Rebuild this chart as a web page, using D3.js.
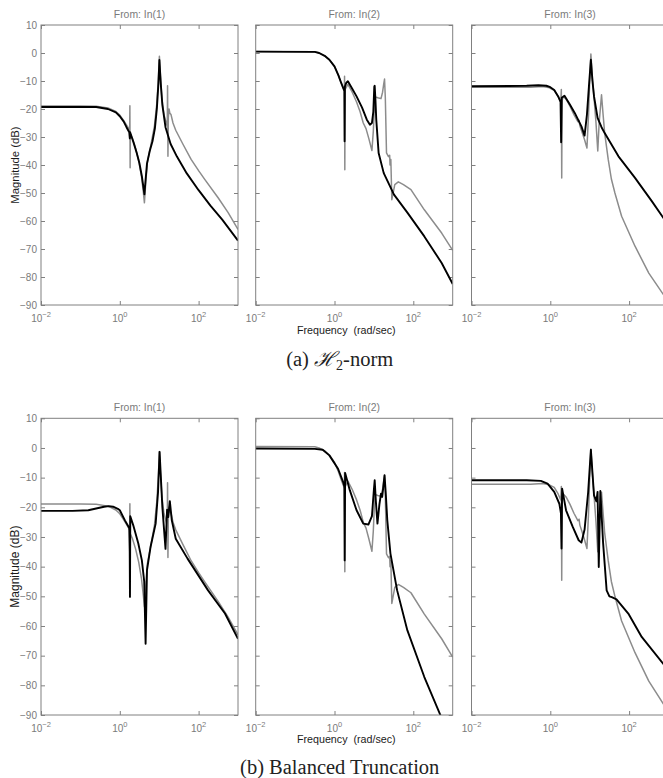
<!DOCTYPE html>
<html><head><meta charset="utf-8">
<script src="https://cdn.jsdelivr.net/npm/d3@7"></script>
<style>body{margin:0;background:#fff}svg{display:block}</style>
</head><body>
<script>
// ---------------- data (frequency as log10(rad/sec), magnitude in dB) ----------------
const inputs = ["In(1)", "In(2)", "In(3)"];
const xTickExponents = [-2, 0, 2];
const yTickValues = [10, 0, -10, -20, -30, -40, -50, -60, -70, -80, -90];
const captionA = ["(a) ", "\u210B", "2", "-norm"];
const captionB = "(b) Balanced Truncation";

// full-order model (grey), identical in both figures
const fullIn1 = [[-2,-18.9],[-1,-18.9],[-0.6,-19.0],[-0.3,-19.6],[-0.1,-20.9],[0,-22.2],[0.1,-24.2],[0.2,-26.4],[0.25,-27.6],[0.256,-18.8],[0.262,-41],[0.268,-29],[0.32,-30.5],[0.4,-34],[0.48,-38.5],[0.55,-44],[0.6,-50],[0.625,-53.5],[0.66,-46],[0.7,-39],[0.8,-32],[0.88,-26],[0.94,-18],[0.98,-9],[1.005,-1.2],[1.03,-8],[1.07,-16.5],[1.12,-22],[1.19,-25.5],[1.205,-26],[1.212,-11.7],[1.222,-36.9],[1.232,-23],[1.25,-20],[1.27,-21.5],[1.3,-22],[1.35,-25],[1.42,-27.6],[1.6,-32.5],[1.81,-38],[2.0,-42],[2.16,-45.2],[2.5,-51.8],[2.75,-57],[3,-63]];
const fullIn2 = [[-2,0.5],[-0.5,0.4],[-0.39,0],[-0.25,-1],[-0.13,-2.4],[0,-4.8],[0.1,-8],[0.17,-10.7],[0.22,-12.5],[0.25,-13.5],[0.255,-8.3],[0.262,-41.7],[0.27,-13],[0.34,-11.2],[0.45,-14],[0.56,-17.5],[0.65,-21],[0.73,-25],[0.8,-27],[0.87,-30.5],[0.95,-34.8],[0.985,-28],[1.01,-20],[1.03,-15.7],[1.1,-16],[1.18,-16.3],[1.22,-14],[1.25,-11],[1.27,-9.3],[1.29,-16],[1.32,-35.7],[1.37,-37],[1.4,-36.5],[1.41,-40],[1.43,-38],[1.455,-52.4],[1.53,-47],[1.62,-46],[1.75,-47],[1.94,-48.8],[2.28,-56],[2.72,-64.3],[3,-70.5]];
const fullIn3 = [[-2,-12.2],[-0.5,-12.2],[-0.2,-12],[-0.05,-12.3],[0.1,-13.3],[0.2,-15.5],[0.265,-17.5],[0.28,-13],[0.29,-44.6],[0.3,-17],[0.33,-15.5],[0.4,-16.5],[0.5,-19],[0.6,-22],[0.7,-24.5],[0.73,-24],[0.75,-26],[0.8,-28],[0.87,-31],[0.93,-33.9],[0.97,-22],[1.0,-10],[1.03,-0.4],[1.07,-9],[1.11,-16],[1.16,-25],[1.205,-35],[1.24,-25],[1.3,-14.9],[1.34,-22],[1.38,-28.6],[1.47,-38],[1.55,-45],[1.64,-50],[1.81,-58.3],[2.15,-69],[2.5,-78.6],[2.9,-86.9],[3,-88.8]];

// reduced model, H2-norm (black, figure a)
const h2In1 = [[-2,-19.3],[-0.6,-19.3],[-0.3,-20],[-0.1,-21.2],[0,-22.6],[0.1,-24.5],[0.17,-26.5],[0.24,-28.3],[0.254,-30.5],[0.262,-28.3],[0.35,-32],[0.43,-35.7],[0.5,-39.5],[0.56,-44],[0.6,-48],[0.625,-50.5],[0.65,-46],[0.69,-39.5],[0.76,-35],[0.83,-31.5],[0.89,-27],[0.94,-20],[0.98,-11],[1.005,-2.5],[1.04,-11],[1.08,-18.5],[1.16,-26.5],[1.29,-32.5],[1.45,-37],[1.7,-43],[2.0,-49],[2.3,-54.5],[2.6,-59.5],[3,-67]];
const h2In2 = [[-2,0.5],[-0.5,0.4],[-0.39,0],[-0.25,-1],[-0.13,-2.4],[0,-4.8],[0.1,-8],[0.17,-10.7],[0.22,-12.5],[0.25,-13.5],[0.256,-31.5],[0.264,-12],[0.3,-10.6],[0.34,-10.1],[0.45,-12.8],[0.56,-15.5],[0.7,-19.5],[0.82,-23.8],[0.9,-25.6],[0.95,-25],[0.985,-21],[1.01,-12],[1.02,-11.7],[1.04,-17],[1.06,-23.8],[1.12,-35.7],[1.25,-42.9],[1.51,-50.6],[1.85,-57],[2.28,-65.5],[2.72,-75],[3,-82.5]];
const h2In3 = [[-2,-11.9],[-0.6,-11.7],[-0.3,-11.5],[-0.1,-11.7],[0,-12.2],[0.1,-13.2],[0.2,-15.5],[0.26,-17.5],[0.275,-31.9],[0.29,-16],[0.36,-15.3],[0.5,-18.5],[0.62,-21.4],[0.79,-26.2],[0.87,-29.5],[0.93,-22],[0.98,-12],[1.03,-2.4],[1.07,-10],[1.11,-15.5],[1.2,-23.2],[1.3,-26.5],[1.38,-28.6],[1.73,-36.9],[2.15,-44.6],[2.58,-53],[2.9,-59.5],[3,-61.5]];

// reduced model, balanced truncation (black, figure b)
const btIn1 = [[-2,-21.2],[-1.2,-21.2],[-0.8,-21],[-0.6,-20.4],[-0.4,-19.8],[-0.28,-19.6],[-0.17,-19.8],[-0.05,-20.5],[0,-21],[0.13,-24.4],[0.24,-27],[0.252,-35],[0.258,-50.2],[0.266,-23],[0.34,-26],[0.47,-32.2],[0.56,-37.9],[0.62,-45],[0.655,-66],[0.69,-41.2],[0.78,-33.4],[0.91,-25.5],[0.97,-15],[1.01,-1.3],[1.05,-12],[1.08,-19.9],[1.16,-34],[1.2,-20.8],[1.23,-23.3],[1.27,-17.9],[1.32,-24.4],[1.42,-30.6],[1.72,-37.3],[2.24,-48],[2.67,-55.8],[3,-64.3]];
const btIn2 = [[-2,-0.2],[-0.5,-0.3],[-0.3,-0.6],[-0.13,-2.5],[0.09,-7],[0.22,-11.5],[0.25,-13],[0.258,-37.9],[0.27,-8.4],[0.39,-14.3],[0.56,-21],[0.73,-25.5],[0.86,-25.8],[0.95,-23],[1.0,-14],[1.02,-10.9],[1.05,-18],[1.09,-25.5],[1.14,-19],[1.18,-15.4],[1.21,-16.5],[1.24,-13],[1.27,-9.2],[1.3,-15],[1.34,-24.4],[1.42,-35.6],[1.59,-48],[1.85,-61.5],[2.28,-77.2],[2.75,-92]];
const btIn3 = [[-2,-10.9],[-0.6,-10.9],[-0.24,-11.1],[-0.07,-12],[0.1,-14.8],[0.23,-18.8],[0.27,-22],[0.285,-33.9],[0.3,-13.7],[0.4,-21],[0.57,-26.6],[0.72,-31.1],[0.79,-31.9],[0.87,-27.5],[0.96,-15],[1.03,-0.6],[1.11,-16],[1.17,-18],[1.2,-14.8],[1.23,-40.1],[1.27,-14.5],[1.34,-32],[1.43,-48],[1.5,-50],[1.56,-50.3],[1.68,-51],[1.98,-55.8],[2.32,-63.7],[2.9,-73.3],[3,-75]];

const fullSeries = [fullIn1, fullIn2, fullIn3];
const reducedSeries = [[h2In1, h2In2, h2In3], [btIn1, btIn2, btIn3]];

// ---------------- drawing ----------------
const W = 663, H = 778;
const svg = d3.select("body").append("svg").attr("width", W).attr("height", H);
const AX = "#808080", TXT = "#7a7a7a";
const sans = "'Liberation Sans', Arial, Helvetica, sans-serif";
const serif = "'Liberation Serif', 'DejaVu Serif', 'Times New Roman', serif";
const panelLeft = [41, 255.7, 471.5], panelW = 197;
const rows = [
  {top: 25, h: 280, tickY: 322, xlabY: 333.5, titleY: 18, capY: 366, magSize: 11.3},
  {top: 418.3, h: 296.7, tickY: 731.5, xlabY: 743, titleY: 411, capY: 774, magSize: 12}
];
const defs = svg.append("defs");

rows.forEach((row, r) => {
  const y = d3.scaleLinear().domain([-90, 10]).range([row.top + row.h, row.top]);
  inputs.forEach((inp, i) => {
    const L = panelLeft[i];
    const x = d3.scaleLog().domain([1e-2, 1e3]).range([L, L + panelW]);
    const g = svg.append("g");
    const cid = `clip${r}${i}`;
    defs.append("clipPath").attr("id", cid).append("rect")
      .attr("x", L).attr("y", row.top).attr("width", panelW).attr("height", row.h);

    // axes (ticks inside, MATLAB style)
    const xv = xTickExponents.map(e => Math.pow(10, e));
    const axes = [
      d3.axisLeft(y).tickValues(yTickValues).tickSize(-4).tickPadding(4),
      d3.axisRight(y).tickValues(yTickValues).tickSize(-4).tickFormat(""),
      d3.axisTop(x).tickValues(xv).tickSize(-4).tickFormat(""),
      d3.axisBottom(x).tickValues(xv).tickSize(-4).tickFormat("")
    ];
    const trans = [`translate(${L},0)`, `translate(${L + panelW},0)`, `translate(0,${row.top})`, `translate(0,${row.top + row.h})`];
    axes.forEach((ax, k) => {
      const ag = g.append("g").attr("transform", trans[k]).call(ax);
      ag.select(".domain").remove();
      ag.selectAll("line").attr("stroke", AX);
      ag.selectAll("text").attr("fill", TXT).attr("font-family", sans).attr("font-size", 10);
      if (k === 0 && i !== 0) ag.selectAll("text").remove();
    });

    // x tick labels 10^e
    xTickExponents.forEach(e => {
      const t = g.append("text").attr("x", x(Math.pow(10, e))).attr("y", row.tickY)
        .attr("text-anchor", "middle").attr("fill", TXT).attr("font-family", sans).attr("font-size", 10);
      t.append("tspan").text("10");
      t.append("tspan").attr("dy", -5).attr("font-size", 7.5).text(e < 0 ? "\u2212" + (-e) : String(e));
    });

    // lines
    const line = d3.line().x(d => x(Math.pow(10, d[0]))).y(d => y(d[1]));
    const lg = g.append("g").attr("clip-path", `url(#${cid})`);
    lg.append("path").datum(fullSeries[i]).attr("d", line)
      .attr("fill", "none").attr("stroke", "#8c8c8c").attr("stroke-width", 1.5).attr("stroke-linejoin", "round");
    lg.append("path").datum(reducedSeries[r][i]).attr("d", line)
      .attr("fill", "none").attr("stroke", "#000").attr("stroke-width", 1.9).attr("stroke-linejoin", "round");

    // box
    g.append("rect").attr("x", L).attr("y", row.top).attr("width", panelW).attr("height", row.h)
      .attr("fill", "none").attr("stroke", AX).attr("stroke-width", 1);

    // title
    g.append("text").attr("x", L + panelW / 2).attr("y", row.titleY).attr("text-anchor", "middle")
      .attr("fill", TXT).attr("font-family", sans).attr("font-size", 10.4).text("From: " + inp);
  });

  // y label
  svg.append("text").attr("transform", `translate(18.5,${row.top + row.h / 2}) rotate(-90)`)
    .attr("text-anchor", "middle").attr("fill", "#1a1a1a").attr("font-family", sans)
    .attr("font-size", row.magSize).text("Magnitude (dB)");
  // x label
  svg.append("text").attr("x", 346.3).attr("y", row.xlabY).attr("text-anchor", "middle")
    .attr("fill", "#1a1a1a").attr("font-family", sans).attr("font-size", 10.7)
    .attr("xml:space", "preserve").style("white-space", "pre").text("Frequency  (rad/sec)");
});

// captions
const ca = svg.append("text").attr("x", 339.7).attr("y", rows[0].capY).attr("text-anchor", "middle")
  .attr("fill", "#222").attr("font-family", serif).attr("font-size", 20.5);
ca.append("tspan").text(captionA[0]);
ca.append("tspan").attr("font-family", "'DejaVu Serif', serif").attr("font-style", "italic").text(captionA[1]);
ca.append("tspan").attr("font-size", 14).attr("dy", 4).text(captionA[2]);
ca.append("tspan").attr("dy", -4).text(captionA[3]);
svg.append("text").attr("x", 339.7).attr("y", rows[1].capY).attr("text-anchor", "middle")
  .attr("fill", "#222").attr("font-family", serif).attr("font-size", 20.5).text(captionB);
</script>
</body></html>
